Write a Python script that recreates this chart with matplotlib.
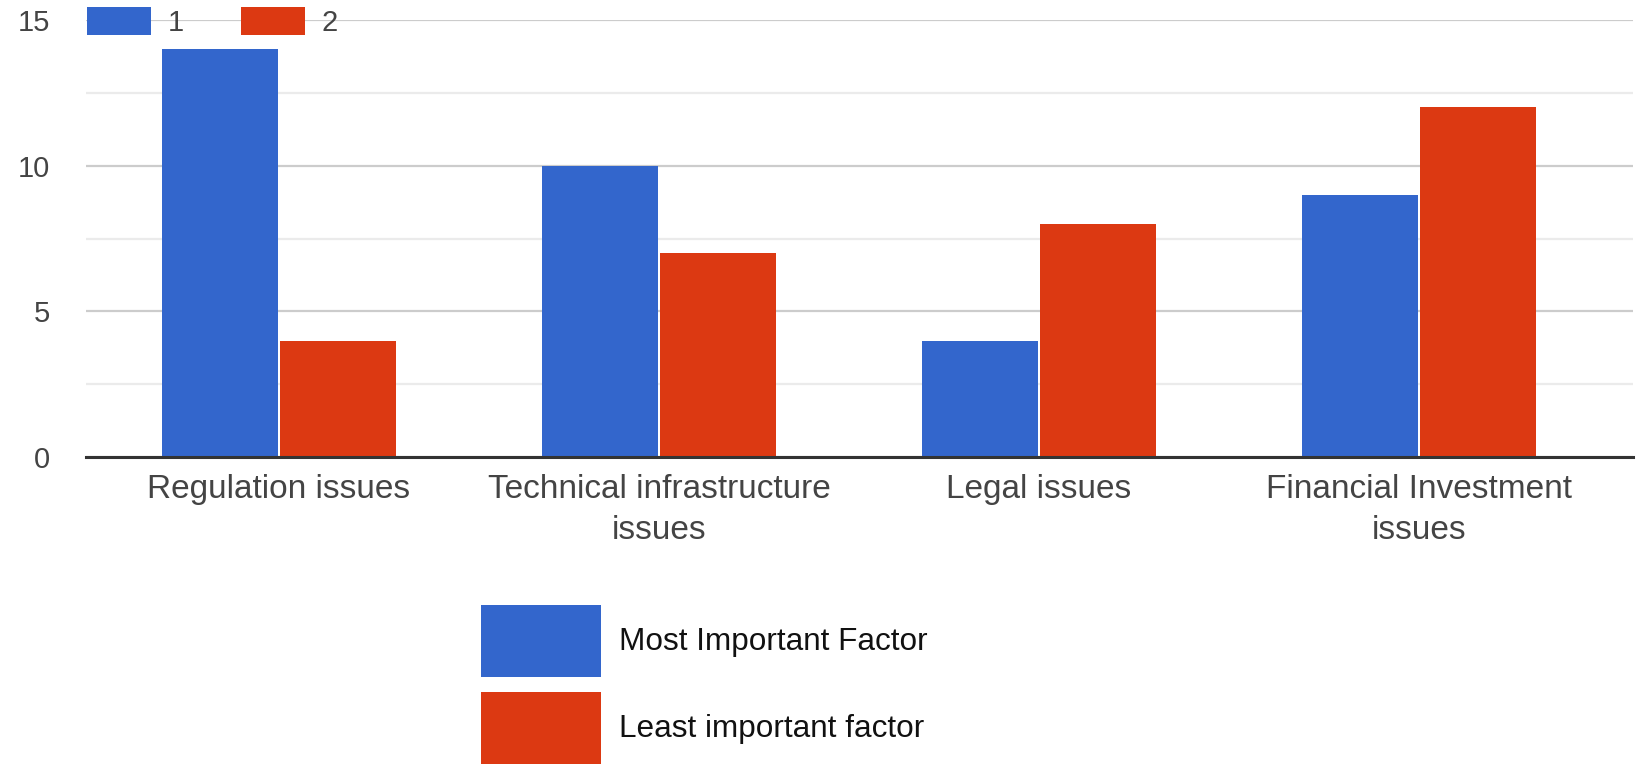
import numpy as np
import matplotlib.pyplot as plt
from matplotlib.patches import Patch

# issue categories and survey counts
categories = ["Regulation issues", "Technical infrastructure\nissues",
              "Legal issues", "Financial Investment\nissues"]
most_important = [14, 10, 4, 9]
least_important = [4, 7, 8, 12]
series_names = ["1", "2"]
legend_names = ["Most Important Factor", "Least important factor"]

BLUE = "#3366cc"
RED = "#dc3912"

plt.rcParams['font.family'] = ['Liberation Sans', 'DejaVu Sans']

fig = plt.figure(figsize=(16.43, 7.72), dpi=100)
ax = fig.add_axes([0.0523, 0.408, 0.9416, 0.566])

x = np.arange(len(categories))
w = 0.305
ax.bar(x - w / 2 - 0.003, most_important, width=w, color=BLUE, zorder=3)
ax.bar(x + w / 2 + 0.003, least_important, width=w, color=RED, zorder=3)

ax.set_xlim(-0.508, 3.563)
ax.set_ylim(0, 15)

# gridlines: major every 5, light minor in between
ax.set_yticks([0, 5, 10, 15])
ax.set_yticks([2.5, 7.5, 12.5], minor=True)
ax.grid(axis='y', which='major', color='#cccccc', lw=1.6, zorder=0)
ax.grid(axis='y', which='minor', color='#ebebeb', lw=1.6, zorder=0)
ax.grid(axis='x', visible=False)
ax.tick_params(axis='y', which='both', length=0, pad=26, labelsize=21, labelcolor='#444444')
ax.tick_params(axis='x', length=0, pad=12, labelsize=24, labelcolor='#444444')
ax.set_xticks(x)
ax.set_xticklabels(categories, linespacing=1.45)

for s in ['top', 'right', 'left']:
    ax.spines[s].set_visible(False)
ax.spines['bottom'].set_color('#333333')
ax.spines['bottom'].set_linewidth(2.2)
ax.spines['bottom'].set_zorder(4)

# small series legend sitting on the top gridline
top_handles = [Patch(facecolor=BLUE), Patch(facecolor=RED)]
leg1 = fig.legend(top_handles, series_names, loc='upper left',
                  bbox_to_anchor=(0.053, 0.991), ncol=2, frameon=False,
                  fontsize=21, handlelength=2.2, handleheight=1.1,
                  handletextpad=0.55, columnspacing=1.97,
                  borderpad=0, borderaxespad=0, labelcolor='#444444')

# large legend below the chart
bottom_handles = [Patch(facecolor=BLUE), Patch(facecolor=RED)]
leg2 = fig.legend(bottom_handles, legend_names, loc='upper left',
                  bbox_to_anchor=(0.293, 0.216), ncol=1, frameon=False,
                  fontsize=22.7, handlelength=3.78, handleheight=3.1,
                  handletextpad=0.6, labelspacing=0.5,
                  borderpad=0, borderaxespad=0, labelcolor='#111111')

fig.savefig("out.png", dpi=100, facecolor='white')
